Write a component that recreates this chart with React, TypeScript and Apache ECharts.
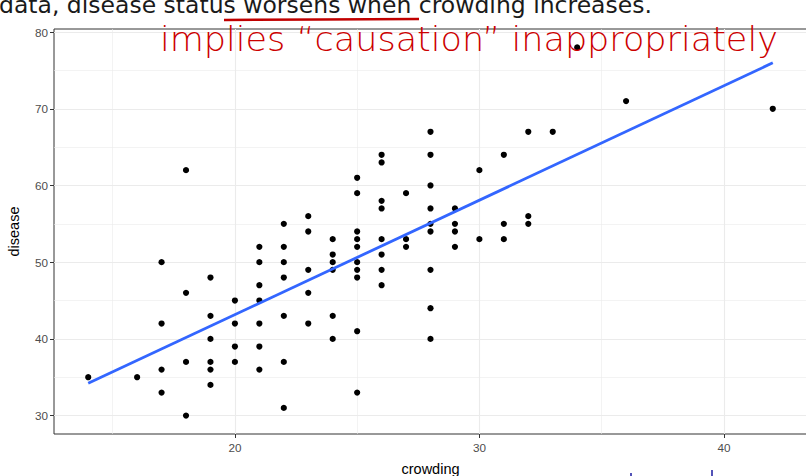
import React, { useEffect, useRef } from "react";
import * as echarts from "echarts";

// Observed crowding index and disease score, one entry per district
const crowding = [
  14, 16,
  17, 17, 17, 17,
  18, 18, 18, 18,
  19, 19, 19, 19, 19, 19,
  20, 20, 20, 20,
  21, 21, 21, 21, 21, 21, 21,
  22, 22, 22, 22, 22, 22, 22,
  23, 23, 23, 23, 23,
  24, 24, 24, 24, 24, 24,
  25, 25, 25, 25, 25, 25, 25, 25, 25, 25,
  26, 26, 26, 26, 26, 26, 26, 26,
  27, 27, 27,
  28, 28, 28, 28, 28, 28, 28, 28, 28,
  29, 29, 29, 29,
  30, 30,
  31, 31, 31,
  32, 32, 32,
  33, 34, 36, 42,
];
const disease = [
  35, 35,
  50, 42, 36, 33,
  62, 46, 37, 30,
  48, 43, 40, 37, 36, 34,
  45, 42, 39, 37,
  52, 50, 47, 45, 42, 39, 36,
  55, 52, 50, 48, 43, 37, 31,
  56, 54, 49, 46, 42,
  53, 51, 50, 49, 43, 40,
  61, 59, 54, 53, 52, 50, 49, 48, 41, 33,
  64, 63, 58, 57, 53, 51, 49, 47,
  59, 53, 52,
  67, 64, 60, 57, 55, 54, 49, 44, 40,
  57, 55, 54, 52,
  62, 53,
  64, 55, 53,
  67, 56, 55,
  67, 78, 71, 70,
];

const xTicks = [20, 30, 40];
const xMinor = [15, 25, 35];
const yTicks = [30, 40, 50, 60, 70, 80];
const yMinor = [35, 45, 55, 65, 75];

const FONT = "'Liberation Sans', Arial, sans-serif";

// ordinary least-squares fit of disease on crowding
function lsFit(xs: number[], ys: number[]) {
  const n = xs.length;
  const mx = xs.reduce((a, b) => a + b, 0) / n;
  const my = ys.reduce((a, b) => a + b, 0) / n;
  let sxy = 0;
  let sxx = 0;
  for (let i = 0; i < n; i++) {
    sxy += (xs[i] - mx) * (ys[i] - my);
    sxx += (xs[i] - mx) * (xs[i] - mx);
  }
  const slope = sxy / sxx;
  return { slope, intercept: my - slope * mx };
}

export default function App() {
  const ref = useRef<HTMLDivElement>(null);

  useEffect(() => {
    if (!ref.current) return;
    const chart = echarts.init(ref.current, null, { renderer: "svg" });

    const points = crowding.map((x, i) => [x, disease[i]]);
    const { slope, intercept } = lsFit(crowding, disease);
    const xLo = Math.min(...crowding);
    const xHi = Math.max(...crowding);
    const fitLine = [
      [xLo, intercept + slope * xLo],
      [xHi, intercept + slope * xHi],
    ];

    const gridLine = (key: "xAxis" | "yAxis", v: number, major: boolean) => ({
      [key]: v,
      lineStyle: { color: "#ebebeb", width: major ? 1.1 : 0.6, type: "solid" },
    });

    chart.setOption({
      animation: false,
      backgroundColor: "#ffffff",
      grid: {
        left: 54,
        top: 29,
        width: 753,
        height: 405,
        outerBoundsMode: "none",
        containLabel: false,
        show: true,
        backgroundColor: "#ffffff",
        borderColor: "#333333",
        borderWidth: 1,
      },
      xAxis: {
        type: "value",
        min: 12.6,
        max: 43.4,
        name: "crowding",
        nameLocation: "middle",
        nameGap: 27,
        nameTextStyle: { color: "#000000", fontSize: 14.5, fontFamily: FONT },
        axisLine: { show: false },
        axisTick: {
          show: true,
          customValues: xTicks,
          length: 4,
          lineStyle: { color: "#333333", width: 1 },
        },
        axisLabel: {
          customValues: xTicks,
          color: "#4d4d4d",
          fontSize: 11.7,
          fontFamily: FONT,
          margin: 7,
        },
        splitLine: { show: false },
      },
      yAxis: {
        type: "value",
        min: 27.6,
        max: 80.4,
        name: "disease",
        nameLocation: "middle",
        nameGap: 33,
        nameTextStyle: { color: "#000000", fontSize: 14.5, fontFamily: FONT },
        axisLine: { show: false },
        axisTick: {
          show: true,
          customValues: yTicks,
          length: 4,
          lineStyle: { color: "#333333", width: 1 },
        },
        axisLabel: {
          customValues: yTicks,
          color: "#4d4d4d",
          fontSize: 11.7,
          fontFamily: FONT,
          margin: 6,
        },
        splitLine: { show: false },
      },
      series: [
        {
          // panel grid lines
          type: "scatter",
          data: [],
          silent: true,
          z: 1,
          markLine: {
            silent: true,
            z: 1,
            symbol: "none",
            label: { show: false },
            animation: false,
            data: [
              ...xMinor.map((v) => gridLine("xAxis", v, false)),
              ...yMinor.map((v) => gridLine("yAxis", v, false)),
              ...xTicks.map((v) => gridLine("xAxis", v, true)),
              ...yTicks.map((v) => gridLine("yAxis", v, true)),
            ],
          },
        },
        {
          type: "scatter",
          data: points,
          symbol: "circle",
          symbolSize: 6.2,
          itemStyle: { color: "#000000", opacity: 1 },
          z: 3,
        },
        {
          type: "line",
          data: fitLine,
          showSymbol: false,
          symbol: "none",
          lineStyle: { color: "#3366FF", width: 2.8 },
          z: 4,
        },
      ],
      graphic: [
        {
          type: "text",
          x: -1,
          y: -7,
          z: 10,
          style: {
            text: "data, disease status worsens when crowding increases.",
            font: "23.5px 'DejaVu Sans', sans-serif",
            fill: "#1a1a1a",
          },
        },
        {
          type: "polyline",
          z: 10,
          shape: { points: [[224, 20], [320, 19.5], [419, 19]] },
          style: { stroke: "#c00000", lineWidth: 2.5, fill: null },
        },
        {
          type: "text",
          x: 160,
          y: 22,
          scaleX: 1.03,
          z: 10,
          style: {
            text: "implies \u201ccausation\u201d inappropriately",
            font: "200 34px 'DejaVu Sans', sans-serif",
            fill: "#cc0000",
          },
        },
        {
          type: "line",
          z: 10,
          shape: { x1: 631, y1: 473, x2: 631, y2: 476 },
          style: { stroke: "#1a1aa0", lineWidth: 1.5 },
        },
        {
          type: "line",
          z: 10,
          shape: { x1: 712, y1: 470, x2: 712, y2: 476 },
          style: { stroke: "#1a1aa0", lineWidth: 1.5 },
        },
      ],
    });

    return () => chart.dispose();
  }, []);

  return (
    <div
      ref={ref}
      style={{ position: "fixed", left: 0, top: 0, width: 806, height: 476 }}
    />
  );
}
